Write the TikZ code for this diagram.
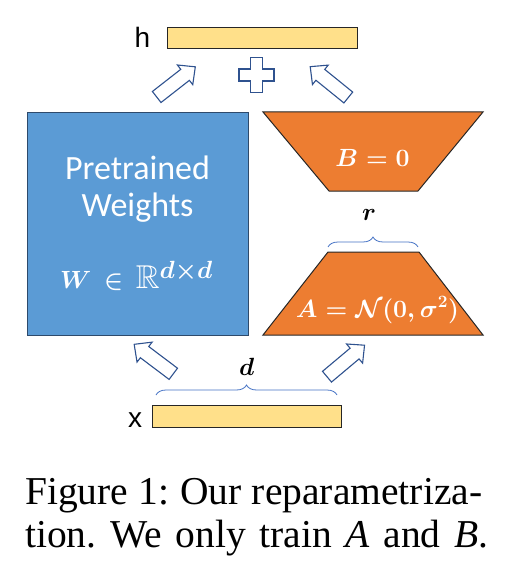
\documentclass[tikz,border=0pt]{standalone}
\usepackage{amsmath,amssymb}
\usepackage{fontspec}
\setmainfont{Liberation Serif}
\newfontfamily\calibri{Carlito}
\newfontfamily\arialf{Liberation Sans}
\usetikzlibrary{decorations.pathreplacing}
\definecolor{wblue}{HTML}{5B9BD5}
\definecolor{wblueline}{HTML}{2E4A6B}
\definecolor{lorange}{HTML}{ED7D31}
\definecolor{baryellow}{HTML}{FFE08A}
\definecolor{arrline}{HTML}{2F528F}
\definecolor{bracecol}{HTML}{4472C4}
\newcommand\blockarr[2]{\draw[blockarrow, shift={(#1)}, rotate=#2] (0,-7) -- (36,-7) -- (36,-12.5) -- (49,0) -- (36,12.5) -- (36,7) -- (0,7) -- cycle;}
\begin{document}
\begin{tikzpicture}[x=1pt,y=-1pt,
  barbox/.style={draw=black!85, fill=baryellow, line width=1pt, minimum width=190pt, minimum height=21pt, inner sep=0pt, anchor=north west},
  lbl/.style={font=\arialf\fontsize{28}{30}\selectfont, inner sep=0pt, anchor=base},
  wtext/.style={text=white, inner sep=0pt, font=\calibri\fontsize{34}{40}\selectfont},
  otext/.style={text=white, inner sep=0pt, anchor=base},
  mlbl/.style={inner sep=0pt, anchor=base, font=\fontsize{27}{30}\selectfont\boldmath},
  blockarrow/.style={draw=arrline, fill=white, line width=1.1pt, line join=miter},
  lorashape/.style={draw=black!85, fill=lorange, line width=1pt},
  bracestyle/.style={draw=bracecol, line width=0.8pt, decorate, decoration={brace, amplitude=10pt}},
  capt/.style={font=\fontsize{39.5}{42}\selectfont\frenchspacing, inner sep=0pt, anchor=base west}]
\useasboundingbox (0,0) rectangle (516,583);

% top bar h
\node[barbox] (hbar) at (167,27) {};
\node[lbl] (hlbl) at (142.5,48) {h};

% plus sign
\draw[blockarrow] (250.5,57.5) -- (262.5,57.5) -- (262.5,69) -- (274,69) -- (274,81) -- (262.5,81) -- (262.5,92.5) -- (250.5,92.5) -- (250.5,81) -- (239,81) -- (239,69) -- (250.5,69) -- cycle;

% top arrows
\blockarr{156.7,97}{38}
\blockarr{348.3,97.5}{141}

% pretrained weights box
\node[draw=wblueline, fill=wblue, line width=1pt, minimum width=221pt, minimum height=223pt, anchor=north west, inner sep=0pt] (W) at (27,112) {};
\node[wtext] (t1) at (137.5,168) {Pretrained};
\node[wtext] (t2) at (137.5,208) {Weights};
\node[otext, font=\fontsize{33}{40}\selectfont\boldmath] (t3) at (136.5,288) {$W\mathrel{\,\in\,}\mathbb{R}^{d\times d}$};

% B trapezoid
\draw[lorashape] (263,112) -- (483,112) -- (418,191) -- (329,191) -- cycle;
\node[otext, font=\fontsize{24}{28}\selectfont\boldmath] (B) at (372.5,166.7) {$B=0$};

% r brace
\draw[bracestyle] (328,247) -- (418,247);
\node[mlbl] (r) at (369,220.7) {$r$};

% A trapezoid
\draw[lorashape] (328,252) -- (419,252) -- (483,335) -- (263,335) -- cycle;
\node[otext, font=\fontsize{25}{28}\selectfont\boldmath] (A) at (377.5,317) {$A=\mathcal{N}(0,\sigma^2)$};

% bottom arrows
\blockarr{173.3,373.8}{143}
\blockarr{327,376.7}{40}

% d brace
\draw[bracestyle] (156,395) -- (337,395);
\node[mlbl] (d) at (246.7,375) {$d$};

% bottom bar x
\node[barbox, minimum width=189pt, minimum height=22pt] (xbar) at (152,405) {};
\node[lbl] (xlbl) at (135,427) {x};

% caption
\node[capt] (c1) at (25,504) {\makebox[457pt][s]{Figure 1: Our reparametriza-}};
\node[capt] (c2) at (25,547) {\makebox[463pt][s]{tion. We only train \textit{A} and \textit{B}.}};
\end{tikzpicture}
\end{document}
